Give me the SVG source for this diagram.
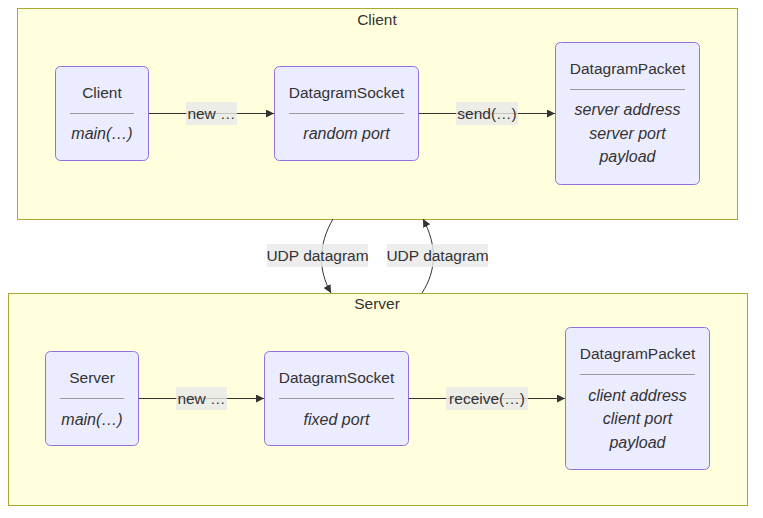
<svg xmlns="http://www.w3.org/2000/svg" width="763" height="518" viewBox="0 0 763 518">
<defs>
<style>
.cluster{fill:#ffffde;stroke:#aaaa33;stroke-width:1}
.node rect{fill:#ECECFF;stroke:#9370DB;stroke-width:1}
.node line{stroke:#9a9a9a;stroke-width:1}
text{font-family:"Liberation Sans",Arial,sans-serif;font-size:15.5px;fill:#333;text-anchor:middle}
.it{font-style:italic;font-size:16px}
.edge{fill:none;stroke:#333;stroke-width:1}
.lbg{fill:#e8e8e8;fill-opacity:0.8}
</style>
<marker id="ah" viewBox="0 0 10 10" refX="10" refY="5" markerWidth="8" markerHeight="8" markerUnits="userSpaceOnUse" orient="auto"><path d="M0,0L10,5L0,10z" fill="#333"/></marker>
</defs>
<rect width="763" height="518" fill="#fff"/>
<g id="cluster-client"><rect class="cluster" x="17.5" y="8.5" width="720" height="211"/><text x="377" y="25">Client</text></g>
<g id="cluster-server"><rect class="cluster" x="8.5" y="293.5" width="739" height="212"/><text x="377" y="309">Server</text></g>
<g id="connectors">
<path class="edge" d="M149,113.5H274" marker-end="url(#ah)"/>
<path class="edge" d="M419,113.5H555" marker-end="url(#ah)"/>
<path class="edge" d="M139,398.5H264" marker-end="url(#ah)"/>
<path class="edge" d="M409,398.5H565" marker-end="url(#ah)"/>
<path class="edge" d="M333,219C318,245 318,270 331,293" marker-end="url(#ah)"/>
<path class="edge" d="M422,293C437,270 437,245 423,219" marker-end="url(#ah)"/>
<rect class="lbg" x="186" y="102" width="51" height="23"/><text x="211.5" y="119">new …</text>
<rect class="lbg" x="456" y="102" width="62" height="23"/><text x="487" y="119">send(…)</text>
<rect class="lbg" x="176" y="387" width="51" height="23"/><text x="201.5" y="404">new …</text>
<rect class="lbg" x="446" y="387" width="82" height="23"/><text x="487" y="404">receive(…)</text>
<rect class="lbg" x="267" y="244" width="101" height="23"/><text x="317.5" y="261">UDP datagram</text>
<rect class="lbg" x="387" y="244" width="101" height="23"/><text x="437.5" y="261">UDP datagram</text>
</g>
<g id="node-client" class="node"><rect x="55.5" y="66.5" width="93" height="94" rx="5"/><text x="102" y="98">Client</text><line x1="70" y1="113.5" x2="134" y2="113.5"/><text class="it" x="102" y="139">main(…)</text></g>
<g id="node-csocket" class="node"><rect x="274.5" y="66.5" width="144" height="94" rx="5"/><text x="346.5" y="98">DatagramSocket</text><line x1="289" y1="113.5" x2="404" y2="113.5"/><text class="it" x="346.5" y="139">random port</text></g>
<g id="node-cpacket" class="node"><rect x="555.5" y="42.5" width="144" height="142" rx="5"/><text x="627.5" y="74">DatagramPacket</text><line x1="570" y1="89.5" x2="685" y2="89.5"/><text class="it" x="627.5" y="115">server address</text><text class="it" x="627.5" y="139">server port</text><text class="it" x="627.5" y="162">payload</text></g>
<g id="node-server" class="node"><rect x="45.5" y="351.5" width="93" height="94" rx="5"/><text x="92" y="383">Server</text><line x1="60" y1="398.5" x2="124" y2="398.5"/><text class="it" x="92" y="425">main(…)</text></g>
<g id="node-ssocket" class="node"><rect x="264.5" y="351.5" width="144" height="94" rx="5"/><text x="336.5" y="383">DatagramSocket</text><line x1="279" y1="398.5" x2="394" y2="398.5"/><text class="it" x="336.5" y="425">fixed port</text></g>
<g id="node-spacket" class="node"><rect x="565.5" y="327.5" width="144" height="142" rx="5"/><text x="637.5" y="359">DatagramPacket</text><line x1="580" y1="374.5" x2="695" y2="374.5"/><text class="it" x="637.5" y="401">client address</text><text class="it" x="637.5" y="424">client port</text><text class="it" x="637.5" y="448">payload</text></g>
</svg>
